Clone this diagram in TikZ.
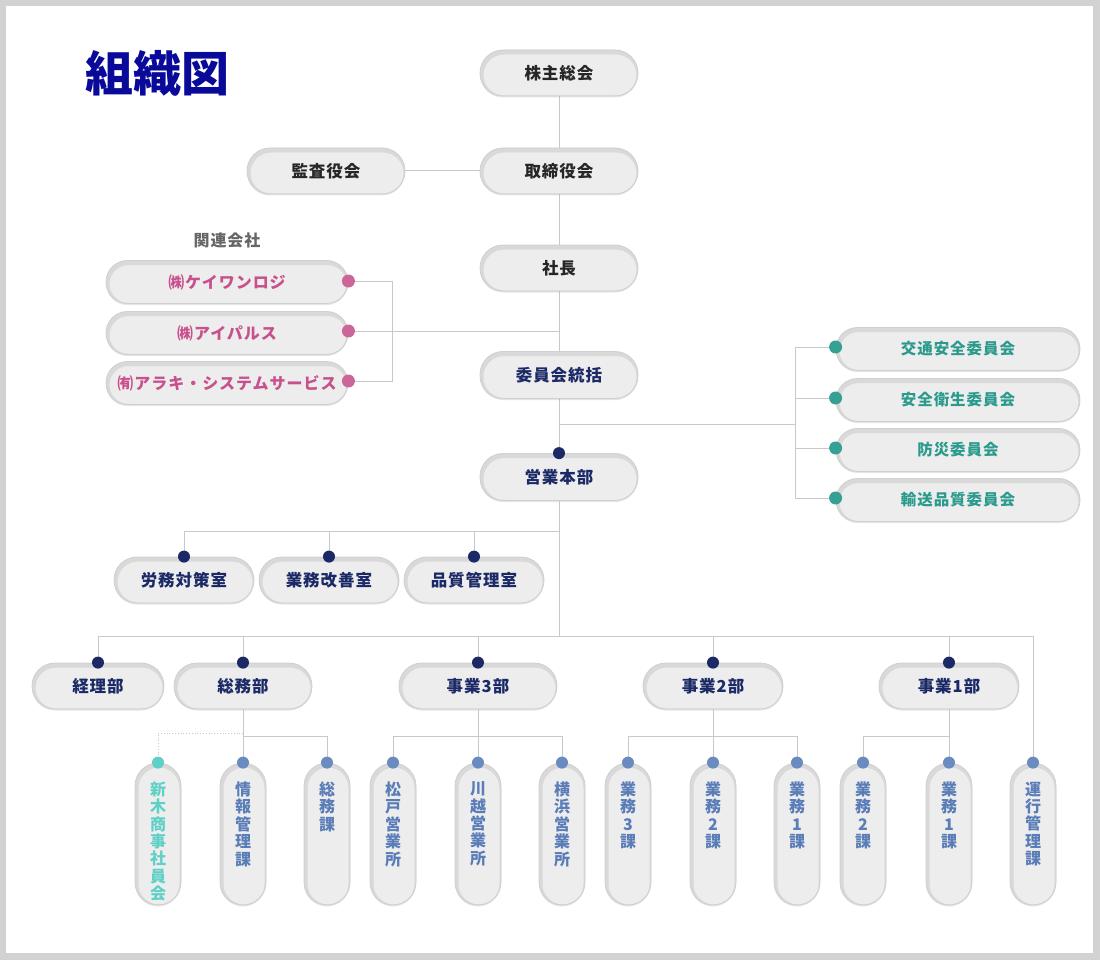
\documentclass[tikz,border=0pt]{standalone}
\usepackage{fontspec}
\newfontfamily\jp{Noto Sans CJK JP}[LetterSpace=6]
\newfontfamily\jpv{Noto Sans CJK JP}
\usetikzlibrary{shadows}
\definecolor{framegray}{HTML}{D2D2D2}
\definecolor{titleblue}{HTML}{0A0A9A}
\definecolor{navy}{HTML}{1B2A66}
\definecolor{pinkc}{HTML}{C8508C}
\definecolor{pinkdot}{HTML}{CC6699}
\definecolor{tealc}{HTML}{2A9A8C}
\definecolor{tealdot}{HTML}{35A094}
\definecolor{steel}{HTML}{5A7DB8}
\definecolor{steeldot}{HTML}{6A8BBF}
\definecolor{ltteal}{HTML}{5FD0C6}
\definecolor{boxfill}{HTML}{EDEDED}
\definecolor{boxedge}{HTML}{D0D0D0}
\definecolor{linec}{HTML}{C8C8C8}
\definecolor{labgray}{HTML}{666666}
\tikzset{
  boxlook/.style={fill=boxfill, draw=boxedge, line width=0.8pt, inner sep=0pt,
    drop shadow={shadow xshift=0pt, shadow yshift=-1.5pt, fill=black, opacity=0.10},
    path picture={\draw[line width=5pt, draw=black!15, rounded corners=#1]
      ([shift={(1pt,-2pt)}]path picture bounding box.south west) rectangle
      ([shift={(1pt,-2pt)}]path picture bounding box.north east);}},
  hpill/.style={boxlook=23pt, rectangle, rounded corners=23pt, minimum width=158pt, minimum height=46pt,
    font=\jp\bfseries\fontsize{16.5}{18}\selectfont},
  rpill/.style={boxlook=21.5pt, rectangle, rounded corners=21.5pt, minimum width=242pt, minimum height=43pt,
    font=\jp\bfseries\fontsize{16}{18}\selectfont, text=pinkc},
  cpill/.style={boxlook=21.5pt, rectangle, rounded corners=21.5pt, minimum width=244pt, minimum height=43pt,
    font=\jp\bfseries\fontsize{15.5}{18}\selectfont, text=tealc},
  vpill/.style={boxlook=23pt, rectangle, rounded corners=23pt, minimum width=46pt, minimum height=142pt},
  vtext/.style={anchor=north, inner sep=0pt, align=center, text=steel,
    font=\jpv\bfseries\fontsize{16}{17.4}\selectfont},
  conn/.style={draw=linec, line width=1pt},
}
\begin{document}
\begin{tikzpicture}[x=1pt,y=-1pt]
\useasboundingbox (0,0) rectangle (1100,960);
\fill[framegray] (0,0) rectangle (1100,960);
\fill[white] (6,6) rectangle (1093,953);

% title
\node[text=titleblue, font=\jpv\bfseries\fontsize{48}{52}\selectfont, inner sep=0pt] (title) at (157,73) {組織図};

% bus coordinates
\coordinate (relbus) at (392,331);
\coordinate (cbus) at (795,424);
\coordinate (bus1) at (559,531);
\coordinate (bus2) at (559,636);
\coordinate (sby) at (0,736);
\coordinate (sbdot) at (0,733);

\path
 (559,73) coordinate (kabuC)
 (559,171) coordinate (toriC)
 (326,171) coordinate (kansaC)
 (559,268) coordinate (shachoC)
 (559,375) coordinate (iinC)
 (559,477) coordinate (eigyoC)
 (227,282) coordinate (rel1C)
 (227,333) coordinate (rel2C)
 (227,383) coordinate (rel3C)
 (958,349) coordinate (com1C)
 (958,400) coordinate (com2C)
 (958,450) coordinate (com3C)
 (958,500) coordinate (com4C);

% connectors behind the upper boxes
\draw[conn] (kabuC) -- (bus2);
\draw[conn] (kansaC) -- (toriC);
\draw[conn] (348,281) -- (0,281 -| relbus) coordinate (rb1) -- (0,381 -| relbus) coordinate (rb3) -- (348,381);
\draw[conn] (348,331) -- (0,331 -| shachoC) coordinate (rb2);
\draw[conn] (cbus -| iinC) -- (cbus);
\draw[conn] (836,347) -- (0,347 -| cbus) -- (0,498 -| cbus) -- (836,498);
\draw[conn] (836,398) -- (0,398 -| cbus);
\draw[conn] (836,448) -- (0,448 -| cbus);

% boxes top
\node[hpill, text=black!85] (kabu) at (kabuC) {株主総会};
\node[hpill, text=black!85] (tori) at (toriC) {取締役会};
\node[hpill, text=black!85] (kansa) at (kansaC) {監査役会};
\node[hpill, text=black!85] (shacho) at (shachoC) {社長};
\node[hpill, text=navy, minimum height=47pt] (iin) at (iinC) {委員会統括};
\node[hpill, text=navy, minimum height=47pt] (eigyo) at (eigyoC) {営業本部};
\fill[navy] (eigyo.north) circle (6pt);

% related companies
\node[text=labgray, font=\jp\bfseries\fontsize{16}{18}\selectfont, inner sep=0pt] (kanren) at (227,240) {関連会社};
\node[rpill] (rel1) at (rel1C) {㈱ケイワンロジ};
\node[rpill] (rel2) at (rel2C) {㈱アイパルス};
\node[rpill] (rel3) at (rel3C) {㈲アラキ・システムサービス};
\fill[pinkdot] (rel1.east |- rb1) circle (6.5pt);
\fill[pinkdot] (rel2.east |- rb2) circle (6.5pt);
\fill[pinkdot] (rel3.east |- rb3) circle (6.5pt);

% committees
\node[cpill] (com1) at (com1C) {交通安全委員会};
\node[cpill] (com2) at (com2C) {安全衛生委員会};
\node[cpill] (com3) at (com3C) {防災委員会};
\node[cpill] (com4) at (com4C) {輸送品質委員会};
\foreach \c/\y in {com1/347,com2/398,com3/448,com4/498}
  \fill[tealdot] (\c.west |- 0,\y) circle (6.5pt);

% rooms
\node[hpill, text=navy, minimum width=140pt] (ro) at (184,580) {労務対策室};
\node[hpill, text=navy, minimum width=140pt] (kai) at (329,580) {業務改善室};
\node[hpill, text=navy, minimum width=140pt] (hin) at (474,580) {品質管理室};

% divisions
\node[hpill, text=navy, minimum width=132pt] (keiri) at (98,686) {経理部};
\node[hpill, text=navy, minimum width=138pt] (somu) at (243,686) {総務部};
\node[hpill, text=navy, minimum width=158pt] (jig3) at (478,686) {事業3部};
\node[hpill, text=navy, minimum width=140pt] (jig2) at (713,686) {事業2部};
\node[hpill, text=navy, minimum width=140pt] (jig1) at (949,686) {事業1部};

% vertical boxes
\foreach \n/\x in {araki/158, joho/243, somuka/327, matsudo/393, kawagoe/478, yokohama/562,
                   g3a/628, g2a/713, g1a/797, g2b/863, g1b/949, unko/1033}
  \node[vpill] (\n) at (\x,834) {};

% connectors between rooms / divisions / sections
\draw[conn] (eigyo.south) -- (bus2);
\draw[conn] (ro.north) |- (bus1);
\draw[conn] (kai.north) -- (kai.north |- bus1);
\draw[conn] (hin.north) -- (hin.north |- bus1);
\draw[conn] (keiri.north) |- (bus2);
\draw[conn] (somu.north) -- (somu.north |- bus2);
\draw[conn] (jig3.north) -- (jig3.north |- bus2);
\draw[conn] (jig2.north) -- (jig2.north |- bus2);
\draw[conn] (jig1.north) -- (jig1.north |- bus2);
\draw[conn] (unko.north) |- (bus2);

\draw[conn] (somu.south) -- (somu.south |- sby) -| (somuka.north);
\draw[conn] (somu.south |- sby) -- (joho.north);
\draw[draw=linec, line width=0.8pt, dotted] (somu.south |- sbdot) -| (araki.north);
\draw[conn] (jig3.south) -- (jig3.south |- sby) -| (yokohama.north);
\draw[conn] (jig3.south |- sby) -| (matsudo.north);
\draw[conn] (jig3.south |- sby) -- (kawagoe.north);
\draw[conn] (jig2.south) -- (jig2.south |- sby) -| (g1a.north);
\draw[conn] (jig2.south |- sby) -| (g3a.north);
\draw[conn] (jig2.south |- sby) -- (g2a.north);
\draw[conn] (jig1.south) -- (jig1.south |- sby) -| (g2b.north);
\draw[conn] (jig1.south |- sby) -- (g1b.north);

% dots
\foreach \n in {ro,kai,hin,keiri,somu,jig3,jig2,jig1}
  \fill[navy] (\n.north) circle (6pt);
\foreach \n in {joho,somuka,matsudo,kawagoe,yokohama,g3a,g2a,g1a,g2b,g1b,unko}
  \fill[steeldot] (\n.north) circle (6pt);
\fill[ltteal] (araki.north) circle (6pt);

% vertical texts
\node[vtext, text=ltteal] (t-araki) at ([yshift=-19pt]araki.north) {新\\木\\商\\事\\社\\員\\会};
\node[vtext] (t-joho) at ([yshift=-19pt]joho.north) {情\\報\\管\\理\\課};
\node[vtext] (t-somuka) at ([yshift=-19pt]somuka.north) {総\\務\\課};
\node[vtext] (t-matsudo) at ([yshift=-19pt]matsudo.north) {松\\戸\\営\\業\\所};
\node[vtext] (t-kawagoe) at ([yshift=-19pt]kawagoe.north) {川\\越\\営\\業\\所};
\node[vtext] (t-yokohama) at ([yshift=-19pt]yokohama.north) {横\\浜\\営\\業\\所};
\node[vtext] (t-g3a) at ([yshift=-19pt]g3a.north) {業\\務\\3\\課};
\node[vtext] (t-g2a) at ([yshift=-19pt]g2a.north) {業\\務\\2\\課};
\node[vtext] (t-g1a) at ([yshift=-19pt]g1a.north) {業\\務\\1\\課};
\node[vtext] (t-g2b) at ([yshift=-19pt]g2b.north) {業\\務\\2\\課};
\node[vtext] (t-g1b) at ([yshift=-19pt]g1b.north) {業\\務\\1\\課};
\node[vtext] (t-unko) at ([yshift=-19pt]unko.north) {運\\行\\管\\理\\課};
\end{tikzpicture}
\end{document}
